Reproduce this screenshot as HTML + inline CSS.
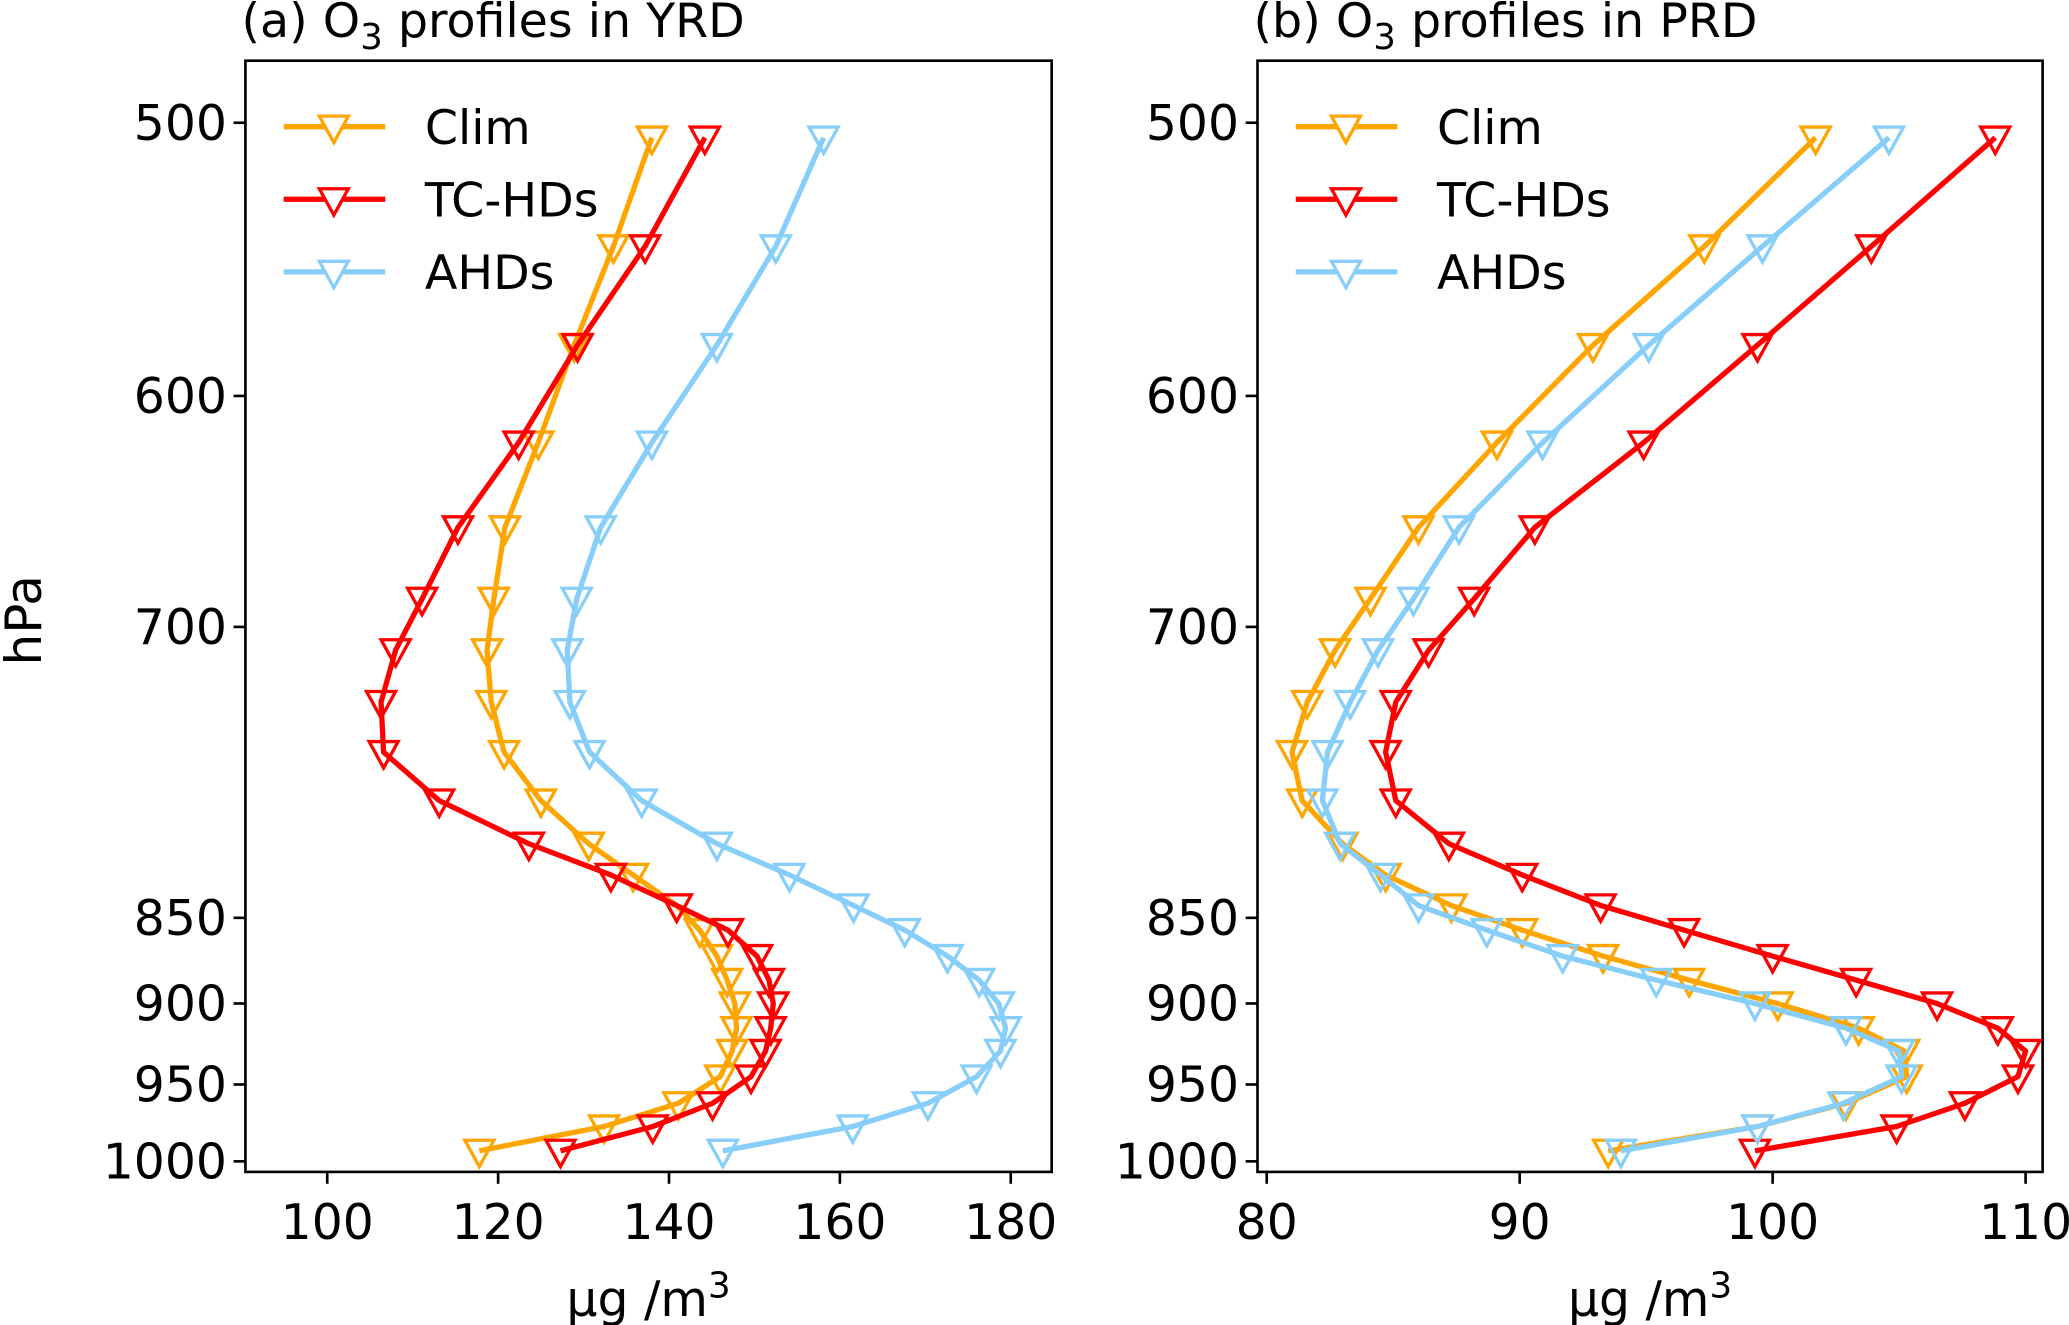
<!DOCTYPE html>
<html><head><meta charset="utf-8"><style>
html,body{margin:0;padding:0;background:#fff}
svg{display:block}
text{font-family:"DejaVu Sans","Liberation Sans",sans-serif;fill:#000}
</style></head><body>
<svg id="chart" width="2069" height="1325" viewBox="0 0 1568 1004" preserveAspectRatio="none" xmlns="http://www.w3.org/2000/svg"></svg>
<script>
const levels = [505,543,580,619,655,687,711,736,761,786,809,826,843,857,872,886,900,915,929,945,962,977,993];
const yrdClim = [138.0,133.5,128.9,124.7,120.8,119.5,118.7,119.2,120.7,125.0,130.6,135.8,140.9,143.6,145.6,146.8,147.7,147.9,147.4,146.0,141.1,132.4,117.8];
const yrdTC = [144.2,137.2,129.3,122.4,115.3,111.1,108.0,106.3,106.6,113.1,123.6,133.2,140.9,146.9,150.3,151.7,152.2,151.9,151.3,149.6,145.1,138.1,127.3];
const yrdAHD = [158.1,152.5,145.6,138.0,132.0,129.2,128.1,128.4,130.7,136.8,145.6,154.1,161.6,167.6,172.6,176.3,178.6,179.4,178.8,176.0,170.3,161.5,146.3];
const prdClim = [101.7,97.3,92.9,89.1,86.0,84.1,82.7,81.6,81.0,81.4,83.0,84.7,87.3,90.1,93.3,96.7,100.2,103.4,105.2,105.3,102.9,99.4,93.5];
const prdTC = [108.8,103.9,99.4,94.9,90.6,88.2,86.4,85.1,84.7,85.1,87.2,90.1,93.2,96.5,100.0,103.3,106.5,108.9,110.0,109.7,107.6,104.9,99.3];
const prdAHD = [104.6,99.6,95.1,90.9,87.6,85.8,84.4,83.3,82.4,82.2,82.9,84.5,86.0,88.7,91.7,95.4,99.3,102.9,105.0,105.1,102.8,99.4,94.0];
const yTicks = [500,600,700,850,900,950,1000];
const xTicksA = [100,120,140,160,180];
const xTicksB = [80,90,100,110];
const seriesNames = ["Clim","TC-HDs","AHDs"];
const colors = ["#FFA500","#FF0000","#87CEFA"];

const NS="http://www.w3.org/2000/svg";
const svg=document.getElementById('chart');
function mk(tag,attrs,parent){const e=document.createElementNS(NS,tag);for(const k in attrs)e.setAttribute(k,attrs[k]);(parent||svg).appendChild(e);return e;}
const TOP=46,BOT=888;
const K=Math.LN2/787;
function yScale(p){return 93+Math.log(p/500)/K;}

function panel(id,left,right,x0,x0px,pxPer,xt,title,data,legX){
  const g=mk('g',{});
  
  
  const xs=v=>x0px+(v-x0)*pxPer;
  const fr=mk('rect',{x:left,y:TOP,width:right-left,height:BOT-TOP,fill:'none',stroke:'#000','stroke-width':2},g);
  
  
  yTicks.forEach(p=>{
    const y=yScale(p);
    mk('line',{x1:left-9,x2:left,y1:y,y2:y,stroke:'#000','stroke-width':2},g);
    const t=mk('text',{x:left-14,y:y+13,'font-size':37,'text-anchor':'end'},g);
    t.textContent=p;
    
    
  });
  xt.forEach(v=>{
    const x=xs(v);
    mk('line',{x1:x,x2:x,y1:BOT,y2:BOT+9,stroke:'#000','stroke-width':2},g);
    const t=mk('text',{x:x,y:939,'font-size':37,'text-anchor':'middle'},g);
    t.textContent=v;
    
    
  });
  const tt=mk('text',{x:left-3,y:28,'font-size':36},g);
  tt.innerHTML=title;
  
  
  const xl=mk('text',{x:(left+right)/2,y:997,'font-size':37,'text-anchor':'middle'},g);
  xl.innerHTML='μg /m<tspan dy="-14" font-size="27">3</tspan>';
  
  
  data.forEach((vals,si)=>{
    const pts=vals.map((v,i)=>xs(v).toFixed(1)+','+yScale(levels[i]).toFixed(1)).join(' ');
    const pl=mk('polyline',{points:pts,fill:'none',stroke:colors[si],'stroke-width':4,'stroke-linejoin':'round'},g);
    
    
    vals.forEach((v,i)=>{
      const x=xs(v),y=yScale(levels[i]);
      const m=mk('polygon',{points:`${x-11},${y-8} ${x+11},${y-8} ${x},${y+12}`,fill:'none',stroke:colors[si],'stroke-width':2.5},g);
      
      
    });
    const ly=96+si*55;
    const ll=mk('line',{x1:legX,x2:legX+77,y1:ly,y2:ly,stroke:colors[si],'stroke-width':4},g);
    
    
    mk('polygon',{points:`${legX+27},${ly-8} ${legX+49},${ly-8} ${legX+38},${ly+12}`,fill:'#fff',stroke:colors[si],'stroke-width':2.5},g);
    const lt=mk('text',{x:legX+107,y:ly+13,'font-size':36},g);
    lt.textContent=seriesNames[si];
    
    
  });
}
panel('yrd',186,797,100,248,6.475,xTicksA,'(a) O<tspan dy="9" font-size="27">3</tspan><tspan dy="-9"> profiles in YRD</tspan>',[yrdClim,yrdTC,yrdAHD],215);
panel('prd',953,1548,80,960,19.17,xTicksB,'(b) O<tspan dy="9" font-size="27">3</tspan><tspan dy="-9"> profiles in PRD</tspan>',[prdClim,prdTC,prdAHD],982);
const yl=mk('text',{x:0,y:0,'font-size':38,'text-anchor':'middle',transform:'translate(31,470) rotate(-90)'});
yl.textContent='hPa';


</script>
</body></html>
